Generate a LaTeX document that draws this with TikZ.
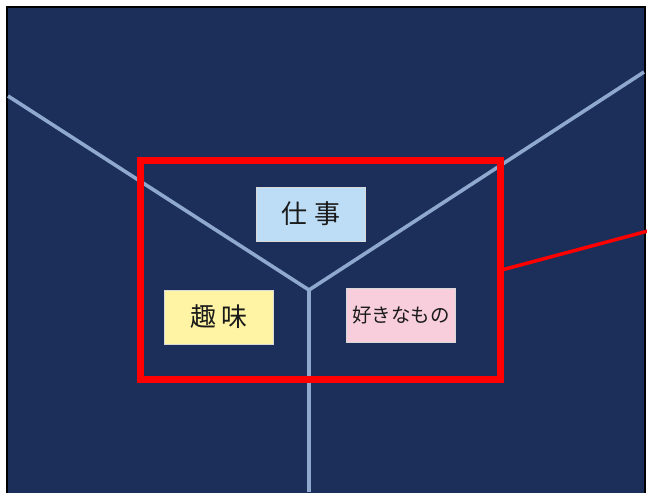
\documentclass[tikz,border=0pt]{standalone}
\usepackage{fontspec}
\newfontfamily\jpfont{Noto Sans CJK JP}
\definecolor{navy}{HTML}{1B2F5A}
\definecolor{spoke}{HTML}{8FA8CE}
\definecolor{workblue}{HTML}{BDDCF5}
\definecolor{hobbyyellow}{HTML}{FFF4A3}
\definecolor{likepink}{HTML}{F8CEDD}
\definecolor{inkgray}{HTML}{1A1A1A}
\tikzstyle{label box}=[rectangle, draw=white!70!gray, line width=0.6pt, inner sep=0pt, minimum width=109pt, minimum height=54pt, text=inkgray, font=\jpfont]
\tikzstyle{divider}=[spoke, line width=3.6pt]

\begin{document}
\begin{tikzpicture}[x=1pt,y=-1pt]
                    \useasboundingbox (0,0) rectangle (647,492);
                    \draw[black, line width=1.6pt, fill=navy] (7,7) rectangle (645,500);
                    \coordinate (hub) at (309,290);
                    \coordinate (nw) at (8,96);
                    \coordinate (ne) at (644,72);
                    \coordinate (s) at (309,492);
                    \draw[divider] (nw) -- (hub) -- (ne);
                    \draw[divider] (hub) -- (s);
                    \node[label box, fill=workblue, font=\jpfont\fontsize{26}{28}\selectfont] (work) at (311,214) {仕\hspace{7pt}事};
                    \node[label box, fill=hobbyyellow, font=\jpfont\fontsize{26}{28}\selectfont] (hobby) at (219,317) {趣\hspace{5pt}味};
                    \node[label box, fill=likepink, font=\jpfont\fontsize{19.5}{22}\selectfont] (likes) at (401,315.5) {好きなもの};
                    \node[draw=red, line width=7pt, minimum width=360pt, minimum height=219pt, inner sep=0pt] (frame) at (320,269.5) {};
                    \coordinate (callout) at (648,231);
                    \draw[red, line width=3.5pt] (frame.east) -- (callout);
                    \end{tikzpicture}
\end{document}
